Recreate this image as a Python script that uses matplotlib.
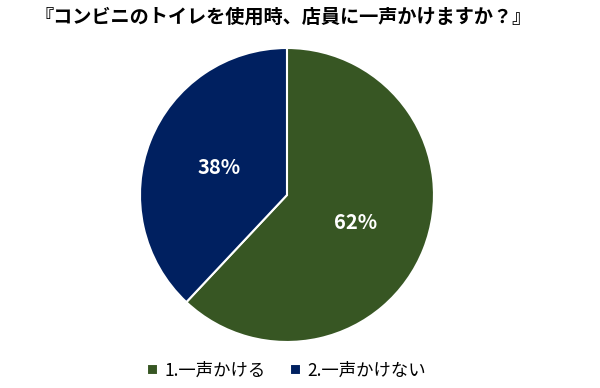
import matplotlib.pyplot as plt

plt.rcParams['font.family'] = ['Noto Sans CJK JP', 'DejaVu Sans']

labels = ["1.一声かける", "2.一声かけない"]
values = [62, 38]
colors = ["#375623", "#002060"]
title = "『コンビニのトイレを使用時、店員に一声かけますか？』"

fig = plt.figure(figsize=(6, 3.88), dpi=100)
ax = fig.add_axes([0.2333, 0.1186, 0.49, 0.7577])

wedges, texts, autotexts = ax.pie(
    values, colors=colors, startangle=90, counterclock=False,
    autopct="%d%%", pctdistance=0.5, radius=1,
    wedgeprops=dict(edgecolor="white", linewidth=1.5),
    textprops=dict(color="white", fontsize=14.5, fontweight="bold"))
ax.set_xlim(-1, 1)
ax.set_ylim(-1, 1)
ax.set_aspect("equal")

fig.text(0.472, 0.955, title, ha="center", va="center", fontsize=13.8,
         fontweight="bold")

fig.legend(wedges, labels, loc="center", bbox_to_anchor=(0.478, 0.045),
           ncol=2, frameon=False, fontsize=12.5, handlelength=0.6,
           handleheight=0.6, handletextpad=0.4, columnspacing=1.4)

fig.savefig("out.png", dpi=100)
